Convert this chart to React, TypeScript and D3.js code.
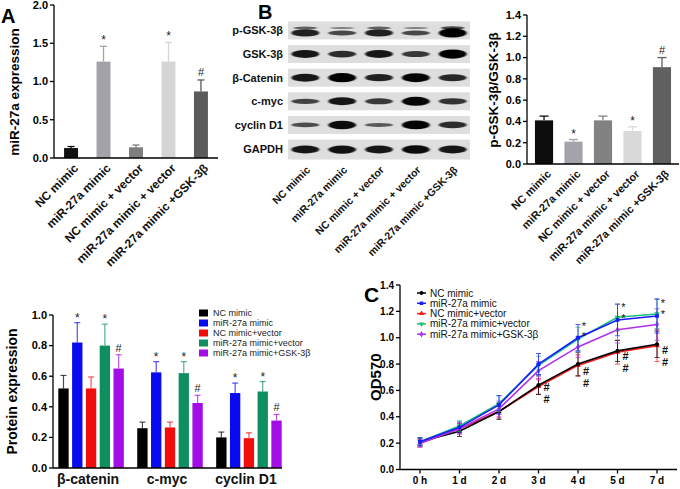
// @ts-nocheck
import * as d3 from "d3";
import { useEffect } from "react";

const FONT = "'Liberation Sans', Arial, Helvetica, sans-serif";

// ---- panel A: miR-27a expression
const groups = [
  "NC mimic",
  "miR-27a mimic",
  "NC mimic + vector",
  "miR-27a mimic + vector",
  "miR-27a mimic +GSK-3β",
];
const mirValues = [0.13, 1.26, 0.14, 1.26, 0.87];
const mirErrors = [0.02, 0.2, 0.03, 0.25, 0.15];
const mirMarks = ["", "*", "", "*", "#"];
const grayFillsA = ["#111111", "#a2a2a8", "#7e7e7e", "#d5d5d5", "#5b5b5b"];
const mirTicks = [0, 0.5, 1.0, 1.5, 2.0];

// ---- panel B: western blot + ratio
const blotRows = ["p-GSK-3β", "GSK-3β", "β-Catenin", "c-myc", "cyclin D1", "GAPDH"];
const pGskUpper = [0.45, 0.2, 0.45, 0.2, 0.65];
const pGskLower = [0.7, 0.35, 0.7, 0.35, 1.0];
const gskBands = [0.8, 0.6, 0.8, 0.5, 1.0];
const cateninBands = [0.8, 1.0, 0.7, 0.95, 0.65];
const mycBands = [0.4, 0.8, 0.5, 0.95, 0.55];
const cyclinBands = [0.3, 0.9, 0.2, 0.95, 0.6];
const gapdhBands = [0.8, 0.85, 0.8, 0.9, 0.8];
const blotBands = [pGskLower, gskBands, cateninBands, mycBands, cyclinBands, gapdhBands];

const gskValues = [0.41, 0.21, 0.41, 0.31, 0.91];
const gskErrors = [0.04, 0.02, 0.04, 0.04, 0.09];
const gskMarks = ["", "*", "", "*", "#"];
const grayFillsB = ["#0d0d0d", "#a3a3ab", "#828282", "#d9d9d9", "#606060"];
const gskTicks = [0, 0.2, 0.4, 0.6, 0.8, 1.0, 1.2, 1.4];

// ---- protein expression
const proteins = ["β-catenin", "c-myc", "cyclin D1"];
const seriesNames = [
  "NC mimic",
  "miR-27a mimic",
  "NC mimic+vector",
  "miR-27a mimic+vector",
  "miR-27a mimic+GSK-3β",
];
const seriesColors = ["#000000", "#0a0af0", "#f20d0d", "#0f8f5f", "#a30de6"];
const betaCatenin = [0.52, 0.82, 0.52, 0.8, 0.65];
const betaCateninErr = [0.085, 0.13, 0.075, 0.14, 0.09];
const cMyc = [0.26, 0.625, 0.265, 0.62, 0.425];
const cMycErr = [0.04, 0.07, 0.035, 0.075, 0.05];
const cyclinD1 = [0.2, 0.49, 0.195, 0.5, 0.31];
const cyclinD1Err = [0.035, 0.065, 0.035, 0.065, 0.04];
const proteinMarks = ["", "*", "", "*", "#"];
const proteinTicks = [0, 0.2, 0.4, 0.6, 0.8, 1.0];

// ---- panel C: growth curve
const days = ["0 h", "1 d", "2 d", "3 d", "4 d", "5 d", "7 d"];
const ncMimicOD = [0.21, 0.29, 0.44, 0.64, 0.8, 0.9, 0.95];
const mirMimicOD = [0.21, 0.32, 0.49, 0.8, 1.0, 1.135, 1.165];
const ncVectorOD = [0.2, 0.31, 0.44, 0.63, 0.79, 0.89, 0.94];
const mirVectorOD = [0.21, 0.33, 0.5, 0.79, 0.99, 1.155, 1.18];
const mirGskOD = [0.2, 0.31, 0.46, 0.75, 0.93, 1.06, 1.1];
const ncMimicErr = [0.03, 0.04, 0.06, 0.07, 0.09, 0.08, 0.1];
const mirMimicErr = [0.03, 0.04, 0.07, 0.08, 0.1, 0.12, 0.13];
const ncVectorErr = [0.03, 0.04, 0.05, 0.06, 0.08, 0.09, 0.12];
const mirVectorErr = [0.03, 0.04, 0.06, 0.07, 0.09, 0.1, 0.11];
const mirGskErr = [0.03, 0.04, 0.06, 0.07, 0.08, 0.1, 0.12];
const growthSeries = [ncMimicOD, mirMimicOD, ncVectorOD, mirVectorOD, mirGskOD];
const growthErr = [ncMimicErr, mirMimicErr, ncVectorErr, mirVectorErr, mirGskErr];
const lineColors = ["#000000", "#1a1aff", "#ff1a1a", "#19c27a", "#b030f0"];
const starDays = ["4 d", "5 d", "7 d"];
const starHigh = [1.12, 1.26, 1.29];
const starLow = [1.04, 1.18, 1.21];
const hashDays = ["3 d", "4 d", "5 d", "7 d"];
const hashHigh = [0.625, 0.745, 0.86, 0.905];
const hashLow = [0.535, 0.655, 0.77, 0.815];
const odTicks = [0, 0.2, 0.4, 0.6, 0.8, 1.0, 1.2, 1.4];

function GrayBars({ axisX, axisEnd, yTop, yBottom, max, ticks, values, errors, marks, fills, pi, po, label, labelX, labelY, labelSize, catSize, fmt }) {
  const x = d3.scaleBand().domain(groups).range([axisX, axisEnd]).paddingInner(pi).paddingOuter(po);
  const y = d3.scaleLinear([0, max], [yBottom, yTop]);
  const bw = x.bandwidth();
  return (
    <g fontFamily={FONT} fontWeight="bold">
      {groups.map((g, i) => {
        const cx = x(g) + bw / 2;
        const top = y(values[i] + errors[i]);
        return (
          <g key={g}>
            <rect x={x(g)} y={y(values[i])} width={bw} height={y(0) - y(values[i])} fill={fills[i]} />
            <line x1={cx} x2={cx} y1={y(values[i])} y2={top} stroke={fills[i]} strokeWidth={1.3} />
            <line x1={cx - bw / 4} x2={cx + bw / 4} y1={top} y2={top} stroke={fills[i]} strokeWidth={1.3} />
            {marks[i] && (
              <text x={cx} y={top - (marks[i] === "*" ? 2 : 4)} textAnchor="middle" fontSize={marks[i] === "*" ? 12 : 11} fontWeight="normal" fill="#222">
                {marks[i]}
              </text>
            )}
            <text
              transform={`translate(${cx + 5},${yBottom + 8}) rotate(-45)`}
              textAnchor="end"
              dy="0.35em"
              fontSize={catSize}
              fill="#111"
            >
              {g}
            </text>
          </g>
        );
      })}
      <line x1={axisX} x2={axisX} y1={yTop} y2={yBottom} stroke="#000" strokeWidth={1.3} />
      <line x1={axisX} x2={axisEnd} y1={yBottom} y2={yBottom} stroke="#000" strokeWidth={1.3} />
      {ticks.map((t) => (
        <g key={t}>
          <line x1={axisX - 4} x2={axisX} y1={y(t)} y2={y(t)} stroke="#000" strokeWidth={1.3} />
          <text x={axisX - 6} y={y(t)} dy="0.35em" textAnchor="end" fontSize={11}>
            {d3.format(fmt)(t)}
          </text>
        </g>
      ))}
      <text transform={`translate(${labelX},${labelY}) rotate(-90)`} textAnchor="middle" fontSize={labelSize} dy="0.35em">
        {label}
      </text>
    </g>
  );
}

function Blot() {
  const lanes = d3.scaleBand().domain(groups).range([288, 470]).paddingInner(0.3).paddingOuter(0.12);
  const rows = d3.scaleBand().domain(blotRows).range([21, 158]).paddingInner(0.24).paddingOuter(0.02);
  const bw = lanes.bandwidth();
  return (
    <g fontFamily={FONT} fontWeight="bold">
      <defs>
        <filter id="blur" x="-30%" y="-80%" width="160%" height="260%">
          <feGaussianBlur stdDeviation="0.8 0.7" />
        </filter>
      </defs>
      {blotRows.map((r, ri) => {
        const ry = rows(r);
        const rh = rows.bandwidth() + (r === "GAPDH" ? 2 : 0);
        const cy = ry + rh / 2 + (r === "p-GSK-3β" ? 2.5 : 0);
        return (
          <g key={r}>
            <rect x={288} y={ry} width={182} height={rh} fill="#dedede" />
            <text x={283} y={ry + rh / 2} dy="0.35em" textAnchor="end" fontSize={11} fill="#111">
              {r}
            </text>
            <g filter="url(#blur)">
              {groups.map((g, li) => {
                const v = blotBands[ri][li];
                const cx = lanes(g) + bw / 2;
                return (
                  <g key={g}>
                    <ellipse cx={cx} cy={cy} rx={bw / 2 + 1} ry={1.4 + 3.2 * v} fill="#050505" opacity={0.5 + 0.5 * v} />
                    {r === "p-GSK-3β" && (
                      <ellipse cx={cx} cy={cy - 5} rx={bw / 2 - 1} ry={0.8 + 1.2 * pGskUpper[li]} fill="#050505" opacity={0.3 + 0.6 * pGskUpper[li]} />
                    )}
                  </g>
                );
              })}
            </g>
          </g>
        );
      })}
      {groups.map((g) => (
        <text
          key={g}
          transform={`translate(${lanes(g) + bw / 2 + 3},${168}) rotate(-45)`}
          textAnchor="end"
          dy="0.35em"
          fontSize={10.5}
          fill="#111"
        >
          {g}
        </text>
      ))}
    </g>
  );
}

function ProteinBars() {
  const axisX = 53;
  const x0 = d3.scaleBand().domain(proteins).range([52, 288]).paddingInner(0.17).paddingOuter(0.08);
  const x1 = d3.scaleBand().domain(seriesNames).range([0, x0.bandwidth()]).paddingInner(0.25).paddingOuter(0);
  const y = d3.scaleLinear([0, 1.0], [468, 315]);
  const vals = [betaCatenin, cMyc, cyclinD1];
  const errs = [betaCateninErr, cMycErr, cyclinD1Err];
  const bw = x1.bandwidth();
  return (
    <g fontFamily={FONT}>
      {proteins.map((p, pi) => (
        <g key={p}>
          {seriesNames.map((s, si) => {
            const bx = x0(p) + x1(s);
            const cx = bx + bw / 2;
            const v = vals[pi][si];
            const top = y(v + errs[pi][si]);
            const c = seriesColors[si];
            return (
              <g key={s}>
                <rect x={bx} y={y(v)} width={bw} height={y(0) - y(v)} fill={c} />
                <line x1={cx} x2={cx} y1={y(v)} y2={top} stroke={c} strokeWidth={1.2} opacity={0.7} />
                <line x1={cx - 3} x2={cx + 3} y1={top} y2={top} stroke={c} strokeWidth={1.2} opacity={0.7} />
                {proteinMarks[si] && (
                  <text x={cx} y={top - (proteinMarks[si] === "*" ? 1 : 3)} textAnchor="middle" fontSize={proteinMarks[si] === "*" ? 12 : 11} fill="#222">
                    {proteinMarks[si]}
                  </text>
                )}
              </g>
            );
          })}
          <text x={x0(p) + x0.bandwidth() / 2 - 3} y={484} textAnchor="middle" fontSize={14} fontWeight="bold" fill="#111">
            {p}
          </text>
        </g>
      ))}
      <line x1={axisX} x2={axisX} y1={315} y2={468} stroke="#000" strokeWidth={1.3} />
      <line x1={axisX} x2={282} y1={468} y2={468} stroke="#000" strokeWidth={1.3} />
      {proteinTicks.map((t) => (
        <g key={t}>
          <line x1={axisX - 4} x2={axisX} y1={y(t)} y2={y(t)} stroke="#000" strokeWidth={1.3} />
          <text x={axisX - 6} y={y(t)} dy="0.35em" textAnchor="end" fontSize={11} fontWeight="bold">
            {d3.format(".1f")(t)}
          </text>
        </g>
      ))}
      <text transform={`translate(12,${(315 + 468) / 2}) rotate(-90)`} textAnchor="middle" dy="0.35em" fontSize={14} fontWeight="bold">
        Protein expression
      </text>
      {seriesNames.map((s, i) => (
        <g key={s} transform={`translate(199,${313 + i * 10})`}>
          <rect x={0} y={-3.5} width={9} height={7} fill={seriesColors[i]} />
          <text x={14} y={0} dy="0.35em" fontSize={9} fill="#222">
            {s}
          </text>
        </g>
      ))}
    </g>
  );
}

const symbolTypes = [d3.symbolCircle, d3.symbolSquare, d3.symbolTriangle, d3.symbolTriangle, d3.symbolDiamond];

function Growth() {
  const axisX = 400;
  const x = d3.scalePoint().domain(days).range([420, 657]);
  const y = d3.scaleLinear([0, 1.4], [469.5, 285]);
  const line = d3.line().x((d, i) => x(days[i])).y((d) => y(d));
  const order = [2, 0, 4, 3, 1];
  return (
    <g fontFamily={FONT}>
      {order.map((si) => {
        const c = lineColors[si];
        const sym = d3.symbol().type(symbolTypes[si]).size(14);
        return (
          <g key={si}>
            {growthSeries[si].map((v, i) => {
              const cx = x(days[i]);
              const e = growthErr[si][i];
              return (
                <g key={i} stroke={c} strokeWidth={1} opacity={0.75}>
                  <line x1={cx} x2={cx} y1={y(v - e)} y2={y(v + e)} />
                  <line x1={cx - 2.5} x2={cx + 2.5} y1={y(v - e)} y2={y(v - e)} />
                  <line x1={cx - 2.5} x2={cx + 2.5} y1={y(v + e)} y2={y(v + e)} />
                </g>
              );
            })}
            <path d={line(growthSeries[si])} fill="none" stroke={c} strokeWidth={1.6} />
            {growthSeries[si].map((v, i) => (
              <path
                key={i}
                d={sym()}
                transform={`translate(${x(days[i])},${y(v)})${si === 3 ? " rotate(180)" : ""}`}
                fill={c}
              />
            ))}
          </g>
        );
      })}
      {starDays.map((d, i) => (
        <g key={d} fontSize={11} fill="#111">
          <text x={x(d) + 6} y={y(starHigh[i])} dy="0.7em" textAnchor="middle">*</text>
          <text x={x(d) + 6} y={y(starLow[i])} dy="0.7em" textAnchor="middle">*</text>
        </g>
      ))}
      {hashDays.map((d, i) => (
        <g key={d} fontSize={11} fontWeight="bold" fill="#111">
          <text x={x(d) + 8} y={y(hashHigh[i])} dy="0.35em" textAnchor="middle">#</text>
          <text x={x(d) + 8} y={y(hashLow[i])} dy="0.35em" textAnchor="middle">#</text>
        </g>
      ))}
      <line x1={axisX} x2={axisX} y1={285} y2={469.5} stroke="#000" strokeWidth={1.3} />
      <line x1={axisX} x2={677} y1={469.5} y2={469.5} stroke="#000" strokeWidth={1.3} />
      {odTicks.map((t) => (
        <g key={t}>
          <line x1={axisX - 4} x2={axisX} y1={y(t)} y2={y(t)} stroke="#000" strokeWidth={1.3} />
          <text x={axisX - 6} y={y(t)} dy="0.35em" textAnchor="end" fontSize={10} fontWeight="bold">
            {d3.format(".1f")(t)}
          </text>
        </g>
      ))}
      {days.map((d) => (
        <g key={d}>
          <line x1={x(d)} x2={x(d)} y1={469.5} y2={473.5} stroke="#000" strokeWidth={1.3} />
          <text x={x(d)} y={484} textAnchor="middle" fontSize={10} fontWeight="bold">
            {d}
          </text>
        </g>
      ))}
      <text transform={`translate(376,${(285 + 469.5) / 2}) rotate(-90)`} textAnchor="middle" dy="0.35em" fontSize={15} fontWeight="bold">
        OD570
      </text>
      {seriesNames.map((s, i) => {
        const sym = d3.symbol().type(symbolTypes[i]).size(12);
        return (
          <g key={s} transform={`translate(417,${293 + i * 10.3})`}>
            <line x1={0} x2={9} y1={0} y2={0} stroke={lineColors[i]} strokeWidth={1.5} />
            <path d={sym()} transform={`translate(4.5,0)${i === 3 ? " rotate(180)" : ""}`} fill={lineColors[i]} />
            <text x={13} y={0} dy="0.35em" fontSize={10} fill="#111">
              {s}
            </text>
          </g>
        );
      })}
    </g>
  );
}

export default function App() {
  useEffect(() => {
    document.body.style.margin = "0";
  }, []);
  return (
    <svg width={680} height={489} style={{ display: "block", background: "#fff" }}>
      <text x={1} y={23} fontFamily={FONT} fontWeight="bold" fontSize={20}>A</text>
      <text x={258} y={19} fontFamily={FONT} fontWeight="bold" fontSize={20}>B</text>
      <text x={364} y={302} fontFamily={FONT} fontWeight="bold" fontSize={21}>C</text>
      <GrayBars
        axisX={54}
        axisEnd={218}
        yTop={5}
        yBottom={158}
        max={2}
        ticks={mirTicks}
        values={mirValues}
        errors={mirErrors}
        marks={mirMarks}
        fills={grayFillsA}
        pi={0.57}
        po={0.31}
        label="miR-27a expression"
        labelX={14}
        labelY={92}
        labelSize={13.5}
        catSize={12}
        fmt=".1f"
      />
      <Blot />
      <GrayBars
        axisX={527}
        axisEnd={679}
        yTop={15}
        yBottom={164}
        max={1.4}
        ticks={gskTicks}
        values={gskValues}
        errors={gskErrors}
        marks={gskMarks}
        fills={grayFillsB}
        pi={0.385}
        po={0.27}
        label="p-GSK-3β/GSK-3β"
        labelX={493}
        labelY={90}
        labelSize={13.5}
        catSize={11}
        fmt=".1f"
      />
      <ProteinBars />
      <Growth />
    </svg>
  );
}
